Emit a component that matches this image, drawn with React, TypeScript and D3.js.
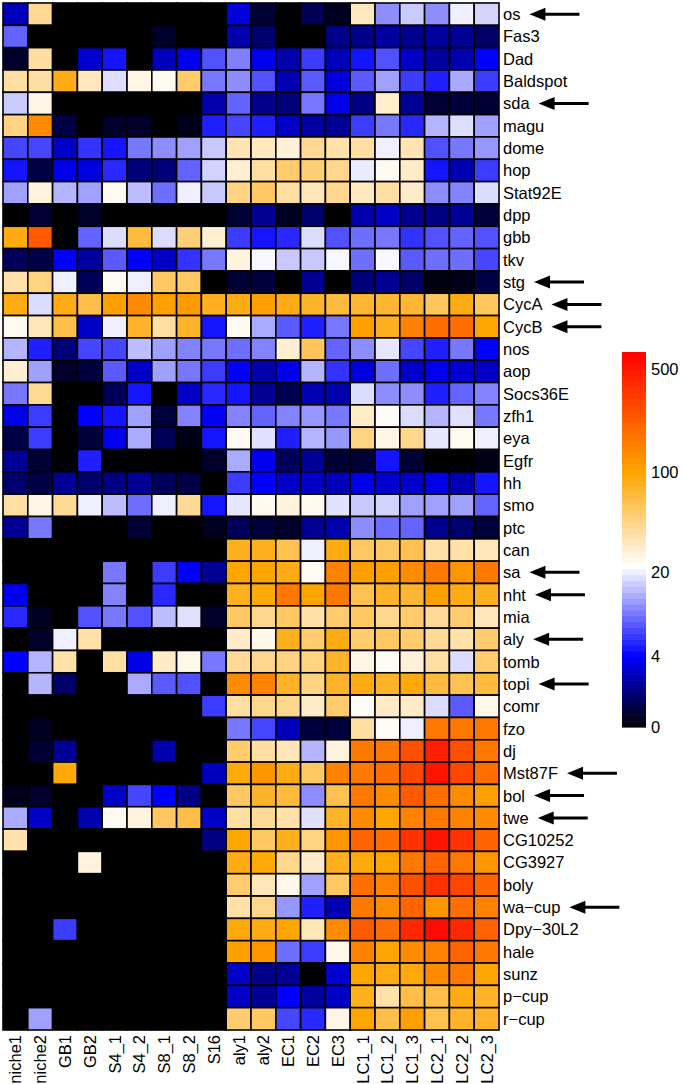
import React, { useEffect, useRef } from "react";
import * as d3 from "d3";

const samples = ["niche1","niche2","GB1","GB2","S4_1","S4_2","S8_1","S8_2","S16","aly1","aly2","EC1","EC2","EC3","LC1_1","LC1_2","LC1_3","LC2_1","LC2_2","LC2_3"];

const genes = ["os","Fas3","Dad","Baldspot","sda","magu","dome","hop","Stat92E","dpp","gbb","tkv","stg","CycA","CycB","nos","aop","Socs36E","zfh1","eya","Egfr","hh","smo","ptc","can","sa","nht","mia","aly","tomb","topi","comr","fzo","dj","Mst87F","bol","twe","CG10252","CG3927","boly","wa\u2212cup","Dpy\u221230L2","hale","sunz","p\u2212cup","r\u2212cup"];

// rows follow `genes`, columns follow `samples`
const expression: number[][] = [
  [2.5, 42, 0, 0, 0, 0, 0, 0, 0, 3.2, 0.5, 0, 0.9, 0.3, 33, 11, 16, 11, 20, 17],
  [8.3, 0, 0, 0, 0, 0, 0.4, 0, 0, 2.2, 1.2, 0, 0, 1.6, 1.6, 2.0, 1.7, 2.0, 1.8, 1.1],
  [0.4, 39, 0, 2.9, 4.7, 0, 2.5, 3.6, 7.3, 10, 3.6, 2.2, 6.3, 2.5, 4.7, 7.3, 2.7, 2.0, 2.2, 4],
  [39, 39, 89, 33, 18, 26, 24, 53, 9.5, 11, 7.3, 2.3, 7.8, 3.2, 7.8, 12.3, 6.3, 5.1, 13, 6.3],
  [16, 26, 0, 0, 0, 0, 0, 0, 2.2, 8.3, 1.65, 1.35, 9.5, 3.5, 1.5, 30, 1.8, 0.5, 0.6, 0.5],
  [47, 133, 0.7, 0, 0.4, 0.4, 0, 0.25, 5.1, 6.8, 5.1, 2.7, 2.0, 1.8, 6.3, 9.5, 5.5, 14, 18, 12.3],
  [6.8, 6.8, 2.7, 5.9, 4.7, 9.5, 10.9, 12.3, 15.8, 35, 33, 28, 42, 37, 39, 20, 35, 7.3, 9.5, 11.6],
  [4.7, 0.7, 3.4, 3.2, 5.5, 1.35, 1.35, 8.3, 16.8, 29, 39, 53, 50, 44, 19.5, 24, 31, 4.7, 2.3, 6.3],
  [12.3, 27, 14, 12.3, 24, 14.8, 8.9, 20, 15.8, 47, 56, 39, 34, 43, 33, 39, 31, 10.9, 10.2, 17.8],
  [0, 0.5, 0, 0.4, 0, 0, 0, 0, 0, 0.5, 1.8, 0.3, 1.2, 0, 2.2, 2.7, 1.65, 1.5, 1.8, 0.6],
  [92, 236, 0, 8.3, 17.8, 70, 17.8, 50, 29, 6.3, 4.7, 5.5, 17.8, 7.3, 8.9, 9.5, 5.9, 7.3, 8.3, 7.3],
  [0.95, 0.7, 4, 2.0, 7.8, 4, 2.7, 5.9, 9.5, 27, 21, 15.8, 15.8, 21, 8.9, 21, 7.8, 8.9, 8.9, 6.8],
  [37, 47, 20, 0.95, 24, 20, 56, 56, 0, 0.5, 0.6, 0, 1.8, 0, 1.35, 1.8, 1.1, 0.15, 0.25, 0.7],
  [89, 17.8, 89, 66, 106, 133, 106, 112, 84, 89, 106, 89, 79, 70, 75, 75, 75, 58, 89, 58],
  [24, 34, 66, 2.7, 20, 79, 39, 79, 4.7, 24, 13.1, 7.8, 5.1, 9.5, 106, 84, 149, 187, 187, 100],
  [14, 5.1, 1.35, 6.8, 6.8, 14.8, 12.3, 10.2, 9.5, 8.9, 10.2, 29, 59, 8.3, 10.9, 19, 6.8, 5.1, 9.5, 3.9],
  [29, 12.3, 0.4, 0.6, 7.8, 2.7, 12.3, 9.5, 6.3, 3.9, 2.2, 3.6, 14, 5.9, 3.2, 8.9, 2.7, 3.6, 2.9, 2.7],
  [9.5, 42, 0, 0, 0.95, 4.7, 0, 2.7, 5.5, 4.7, 1.8, 0.8, 2.3, 2.2, 17.8, 10.9, 10.9, 5.1, 8.3, 10.2],
  [3.4, 6.3, 0, 4, 4.7, 12.3, 0.6, 10.2, 3.9, 10.2, 8.3, 10.2, 11.6, 9.5, 30.8, 23, 17.8, 14, 18.4, 9.5],
  [0.7, 6.3, 0, 0.6, 3.6, 13.1, 0.95, 0.2, 4.7, 24, 18.4, 5.1, 14, 11.6, 47, 26, 44, 19, 24, 20],
  [1.8, 0.5, 0, 5.1, 0, 0, 0, 0, 0.4, 13.1, 3.6, 0.95, 1.8, 0.5, 0.5, 4.7, 0.5, 0, 0, 0.2],
  [1.2, 0.7, 1.8, 1.2, 1.5, 1.8, 0.95, 0.7, 0, 6.3, 3.9, 2.7, 2.7, 2.5, 3.4, 2.9, 2.7, 3.4, 2.3, 4.7],
  [39, 26, 41.6, 20, 14.8, 8.9, 20, 41.6, 4.7, 19, 24, 27, 24, 18.4, 15.8, 16.8, 12.3, 12.3, 12.3, 8.3],
  [1.8, 9.5, 0, 0, 0, 0.5, 0, 0, 0.3, 0.95, 0.6, 0.4, 1.8, 2.2, 10.9, 8.9, 8.3, 1.65, 1.2, 0.6],
  [0, 0, 0, 0, 0, 0, 0, 0, 0, 84, 84, 63, 20, 89, 56, 56, 63, 37, 37, 34],
  [0, 0, 0, 0, 9.5, 0, 6.3, 3.9, 1.8, 100, 100, 89, 23.4, 149, 106, 106, 133, 167, 119, 167],
  [3.6, 0, 0, 0, 10.2, 0, 5.5, 0, 0, 84, 94, 167, 100, 167, 63, 79, 75, 106, 89, 84],
  [5.5, 0.3, 0, 7.3, 9.5, 7.3, 14.8, 18.4, 0.4, 56, 44, 56, 37, 53, 56, 44, 53, 41.6, 53, 34],
  [0, 0.4, 20, 37, 0, 0, 0, 0, 0, 31, 25, 84, 53, 89, 53, 56, 53, 41.6, 37, 53],
  [4, 14, 37, 0, 39, 3.4, 31, 25, 9.5, 41.6, 44, 47, 47, 79, 26, 23.4, 28, 39, 17.8, 53],
  [0, 14, 1.1, 0, 0, 13.1, 7.8, 7.3, 0, 133, 149, 79, 47, 79, 89, 79, 94, 70, 63, 70],
  [0, 0, 0, 0, 0, 0, 0, 0, 6.3, 39, 44, 44, 31, 53, 23, 31, 31, 17.8, 7.8, 25],
  [0, 0.3, 0, 0, 0, 0, 0, 0, 0, 9.5, 6.8, 2.5, 0.6, 0.6, 39, 23, 20, 167, 167, 167],
  [0, 0.5, 1.8, 0, 0, 0, 2.2, 0, 0, 53, 39, 34, 14, 27, 167, 167, 264, 463, 264, 167],
  [0, 0, 94, 0, 0, 0, 0, 0, 2.5, 94, 119, 89, 56, 149, 167, 187, 295, 519, 295, 187],
  [0.25, 0.4, 0, 0, 2.7, 6.8, 4, 1.5, 0, 56, 79, 70, 10.9, 63, 167, 133, 236, 187, 133, 106],
  [13.1, 2.7, 0, 2.2, 24, 27, 56, 66, 2.7, 39, 41.6, 37, 18.4, 79, 133, 100, 149, 167, 149, 133],
  [37, 0, 0, 0, 0, 0, 0, 0, 1.5, 100, 56, 84, 47, 119, 210, 187, 370, 519, 370, 210],
  [0, 0, 0, 27, 0, 0, 0, 0, 0, 89, 94, 44, 31, 84, 94, 100, 167, 210, 167, 119],
  [0, 0, 0, 0, 0, 0, 0, 0, 0, 53, 34, 25, 12.3, 56, 187, 149, 264, 370, 295, 210],
  [0, 0, 0, 0, 0, 0, 0, 0, 0, 37, 44, 11.6, 5.1, 2.3, 167, 133, 210, 119, 187, 149],
  [0, 0, 6.3, 0, 0, 0, 0, 0, 0, 94, 89, 100, 34, 133, 236, 187, 414, 580, 414, 210],
  [0, 0, 0, 0, 0, 0, 0, 0, 0, 106, 119, 8.9, 6.3, 25, 149, 100, 133, 149, 210, 167],
  [0, 0, 0, 0, 0, 0, 0, 0, 0, 2.7, 1.6, 1.8, 0, 2.9, 100, 89, 94, 133, 167, 100],
  [0, 0, 0, 0, 0, 0, 0, 0, 0, 2.7, 1.8, 4, 2.0, 2.7, 84, 37, 66, 66, 89, 79],
  [0, 12.3, 0, 0, 0, 0, 0, 0, 0, 53, 56, 6.8, 5.5, 26, 100, 66, 106, 63, 79, 79],
];

const arrowGenes = ["os","sda","stg","CycA","CycB","sa","nht","aly","topi","Mst87F","bol","twe","wa\u2212cup"];

const colorStops = [0, 4, 22, 100, 650];
const colorRange = ["#000000", "#0000ff", "#ffffff", "#ffa500", "#ff0000"];
const legendTicks = [0, 4, 20, 100, 500];
const legendMax = 650;

const FONT = "'Liberation Sans', Arial, Helvetica, sans-serif";

export default function App() {
  const ref = useRef<SVGSVGElement>(null);

  useEffect(() => {
    const svg = d3.select(ref.current);
    svg.selectAll("*").remove();

    const left = 3, right = 499, top = 3, bottom = 1030;
    const x = d3.scaleBand().domain(samples).range([left, right]);
    const y = d3.scaleBand().domain(genes).range([top, bottom]);
    const color = (d3.scaleSymlog() as any).constant(2).domain(colorStops).range(colorRange).clamp(true);

    svg.append("rect").attr("width", 683).attr("height", 1084).attr("fill", "#fff");

    const cells = svg.append("g");
    genes.forEach((g, i) => {
      samples.forEach((s, j) => {
        cells.append("rect")
          .attr("x", x(s)!)
          .attr("y", y(g)!)
          .attr("width", x.bandwidth())
          .attr("height", y.bandwidth())
          .attr("fill", color(expression[i][j]))
          .attr("stroke", "#000")
          .attr("stroke-width", 1.6);
      });
    });

    // row labels
    const rowLab = svg.append("g").attr("font-family", FONT).attr("font-size", 16.5).attr("fill", "#000");
    genes.forEach((g) => {
      const t = rowLab.append("text")
        .attr("x", right + 4)
        .attr("y", y(g)! + y.bandwidth() / 2)
        .attr("dy", "0.36em")
        .text(g);
      if (arrowGenes.includes(g)) {
        const w = (t.node() as SVGTextElement).getComputedTextLength();
        const tip = right + 4 + w + 9;
        const cy = y(g)! + y.bandwidth() / 2;
        svg.append("line")
          .attr("x1", tip + 10).attr("x2", tip + 50)
          .attr("y1", cy).attr("y2", cy)
          .attr("stroke", "#000").attr("stroke-width", 3);
        svg.append("path")
          .attr("d", `M${tip},${cy}L${tip + 16},${cy - 6.5}L${tip + 16},${cy + 6.5}Z`)
          .attr("fill", "#000");
      }
    });

    // column labels
    const colLab = svg.append("g").attr("font-family", FONT).attr("font-size", 16.5).attr("fill", "#000");
    samples.forEach((s) => {
      colLab.append("text")
        .attr("transform", `translate(${x(s)! + x.bandwidth() / 2},${bottom + 5}) rotate(-90)`)
        .attr("text-anchor", "end")
        .attr("dy", "0.36em")
        .text(s);
    });

    // colour legend
    const legX = 622, legW = 24, legTop = 352, legBottom = 727;
    const yLeg = (d3.scaleSymlog() as any).constant(2).domain([0, legMax]).range([legBottom, legTop]);
    const steps = 64;
    const leg = svg.append("g");
    for (let k = 0; k < steps; k++) {
      const y0 = legBottom - ((k + 1) / steps) * (legBottom - legTop);
      const y1 = legBottom - (k / steps) * (legBottom - legTop);
      const v = yLeg.invert((y0 + y1) / 2);
      leg.append("rect")
        .attr("x", legX).attr("y", y0)
        .attr("width", legW).attr("height", y1 - y0 + 0.6)
        .attr("fill", color(v));
    }
    const legLab = svg.append("g").attr("font-family", FONT).attr("font-size", 16.5).attr("fill", "#000");
    legendTicks.forEach((v) => {
      legLab.append("text")
        .attr("x", legX + legW + 5)
        .attr("y", yLeg(v))
        .attr("dy", "0.36em")
        .text(String(v));
    });
  }, []);

  return (
    <svg
      ref={ref}
      width={683}
      height={1084}
      style={{ position: "absolute", left: 0, top: 0, display: "block" }}
    />
  );
}
const legMax = legendMax;
